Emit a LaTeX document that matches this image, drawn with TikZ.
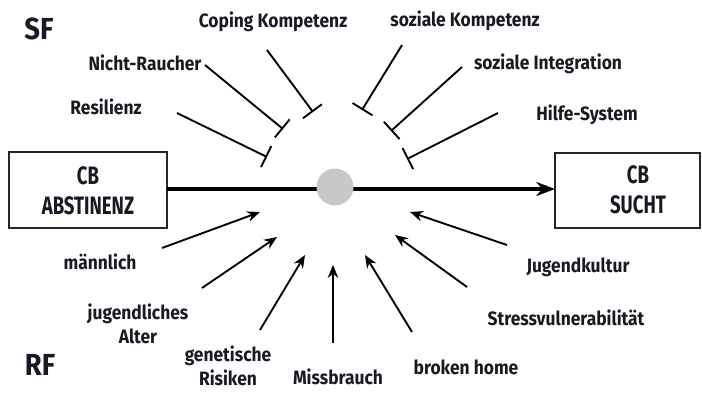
\documentclass[tikz,border=0pt]{standalone}
\usepackage{fontspec}
\setmainfont{Fira Sans}[FakeStretch=0.9]
\usetikzlibrary{arrows.meta}
\definecolor{txt}{RGB}{25,25,35}
\definecolor{dot}{RGB}{200,200,200}
\newcommand\cbsq[1]{\scalebox{0.82}[1]{#1}}
\tikzset{
  lbl/.style={font=\bfseries\fontsize{16.5}{20.5}\selectfont, text=txt, inner sep=0pt, align=center},
  big/.style={font=\bfseries\fontsize{26}{28}\selectfont, text=txt, inner sep=0pt},
  cbbox/.style={draw=black!85, line width=1.3pt, fill=white},
  cbtext/.style={font=\bfseries\fontsize{21.5}{23}\selectfont, text=txt, inner sep=0pt},
  inhib/.style={line width=1.6pt, -{Bar[width=20pt,line width=1.6pt]}},
  risk/.style={line width=1.6pt, -{Stealth[length=11pt,width=9pt]}},
  mainarrow/.style={line width=3pt, -{Stealth[length=16pt,width=12pt]}},
}
\begin{document}
\begin{tikzpicture}[x=0.03cm,y=-0.03cm]
\useasboundingbox (0,0) rectangle (702,392);
% boxes
\draw[cbbox] (9,152) rectangle (167,228);
\draw[cbbox] (555,153) rectangle (700,228);
\coordinate (absE) at (167,189);
\coordinate (suchtW) at (555,189);
\node[cbtext] (cb1) at (88,176) {\cbsq{CB}};
\node[cbtext] (abst) at (88,206) {\cbsq{ABSTINENZ}};
\node[cbtext] (cb2) at (638,175) {\cbsq{CB}};
\node[cbtext] (sucht) at (638,205) {\cbsq{SUCHT}};
% main line
\draw[mainarrow] (absE) -- (suchtW);
\node[circle, fill=dot, inner sep=0pt, minimum size=1.11cm] (dot) at (335,187) {};
% big labels
\node[big] (sf) at (39,29) {SF};
\node[big] (rf) at (40,365) {RF};
% protective factors
\node[lbl] (res) at (106,107) {Resilienz};
\node[lbl] (nr) at (145,63) {Nicht-Raucher};
\node[lbl] (cop) at (273,22) {Coping Kompetenz};
\node[lbl] (sk) at (465,21) {soziale Kompetenz};
\node[lbl] (si) at (548,64) {soziale Integration};
\node[lbl] (hs) at (587,115) {Hilfe-System};
\coordinate (res0) at (177,113); \coordinate (res1) at (267,157);
\coordinate (nr0) at (205,65);   \coordinate (nr1) at (283,129);
\coordinate (cop0) at (267,50);  \coordinate (cop1) at (313,112);
\coordinate (sk0) at (402,45);   \coordinate (sk1) at (362,110);
\coordinate (si0) at (462,67);   \coordinate (si1) at (391,131);
\coordinate (hs0) at (498,113);  \coordinate (hs1) at (407,159);
\draw[inhib] (res0) -- (res1);
\draw[inhib] (nr0) -- (nr1);
\draw[inhib] (cop0) -- (cop1);
\draw[inhib] (sk0) -- (sk1);
\draw[inhib] (si0) -- (si1);
\draw[inhib] (hs0) -- (hs1);
% risk factors
\node[lbl] (mae) at (100,262) {männlich};
\node[lbl] (jug) at (138,324) {jugendliches\\Alter};
\node[lbl] (gen) at (228,366) {genetische\\Risiken};
\node[lbl] (mis) at (338,377) {Missbrauch};
\node[lbl] (bro) at (466,367) {broken home};
\node[lbl] (str) at (566,318) {Stressvulnerabilität};
\node[lbl] (jk) at (578,267) {Jugendkultur};
\coordinate (mae0) at (162,248); \coordinate (mae1) at (260,212);
\coordinate (jug0) at (202,288); \coordinate (jug1) at (277,237);
\coordinate (gen0) at (260,330); \coordinate (gen1) at (305,255);
\coordinate (mis0) at (333,343); \coordinate (mis1) at (333,265);
\coordinate (bro0) at (412,332); \coordinate (bro1) at (365,255);
\coordinate (str0) at (467,287); \coordinate (str1) at (395,235);
\coordinate (jk0) at (507,245);  \coordinate (jk1) at (410,212);
\draw[risk] (mae0) -- (mae1);
\draw[risk] (jug0) -- (jug1);
\draw[risk] (gen0) -- (gen1);
\draw[risk] (mis0) -- (mis1);
\draw[risk] (bro0) -- (bro1);
\draw[risk] (str0) -- (str1);
\draw[risk] (jk0) -- (jk1);
\end{tikzpicture}
\end{document}
